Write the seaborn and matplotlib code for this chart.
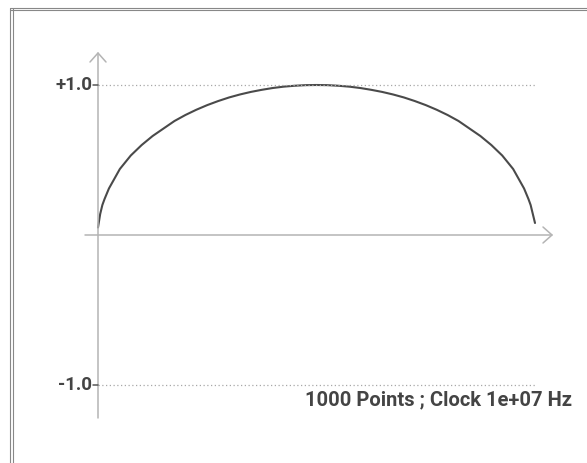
import matplotlib
matplotlib.use("Agg")
import matplotlib.pyplot as plt
from matplotlib.lines import Line2D
import seaborn as sns
import pandas as pd

# values (x: 0..1 across the sweep, y: amplitude)
sweep_pos = [0.0, 0.005, 0.01, 0.015, 0.025, 0.05, 0.075, 0.1, 0.125, 0.15, 0.175,
             0.2, 0.225, 0.25, 0.275, 0.3, 0.325, 0.35, 0.375, 0.4, 0.425, 0.45,
             0.475, 0.5, 0.525, 0.55, 0.575, 0.6, 0.625, 0.65, 0.675, 0.7, 0.725,
             0.75, 0.775, 0.8, 0.825, 0.85, 0.875, 0.9, 0.925, 0.95, 0.975, 0.985,
             0.99, 0.995, 1.0]
amplitude = [0.05, 0.14, 0.20, 0.24, 0.31, 0.44, 0.53, 0.60, 0.66, 0.71, 0.76,
             0.80, 0.835, 0.866, 0.893, 0.917, 0.937, 0.954, 0.968, 0.98, 0.989, 0.995,
             0.999, 1.0, 0.999, 0.995, 0.989, 0.98, 0.968, 0.954, 0.937, 0.917, 0.893,
             0.866, 0.835, 0.80, 0.76, 0.71, 0.66, 0.60, 0.53, 0.44, 0.31, 0.24,
             0.20, 0.14, 0.08]
tick_values = [1.0, -1.0]
tick_labels = ["+1.0", "-1.0"]
caption = "1000 Points ; Clock 1e+07 Hz"

W, H = 587, 463
sns.set_style("white")
plt.rcParams['font.family'] = ['Roboto', 'DejaVu Sans']

fig = plt.figure(figsize=(W / 100, H / 100), dpi=100)
# axes box: x 0..1 -> px 98..535, y -1..1 -> px 385..85
ax = fig.add_axes([98 / W, (H - 385) / H, (535 - 98) / W, 300 / H])
ax.set_xlim(0, 1)
ax.set_ylim(-1, 1)
ax.axis("off")

df = pd.DataFrame({"x": sweep_pos, "y": amplitude})
sns.lineplot(data=df, x="x", y="y", ax=ax, color="#4a4a4a", linewidth=1.5,
             clip_on=False)

axis_col = "#b4b4b4"
px = 1 / 437   # x data per pixel
py = 1 / 150   # y data per pixel
# axes lines with arrows
ax.plot([0, 0], [-183 * py, 182 * py], color=axis_col, lw=1.1, clip_on=False)
ax.plot([-8 * px, 0, 8 * px], [173 * py, 182 * py, 173 * py], color=axis_col, lw=1.1, clip_on=False)
ax.plot([-13 * px, 454 * px], [0, 0], color=axis_col, lw=1.1, clip_on=False)
ax.plot([445 * px, 454 * px, 445 * px], [8 * py, 0, -8 * py], color=axis_col, lw=1.1, clip_on=False)

# dotted reference lines + tick labels
for v, lab in zip(tick_values, tick_labels):
    ax.plot([0, 1], [v, v], color="#a8a8a8", lw=0.9, ls=(0, (1, 2)), clip_on=False)
    ax.plot([-5 * px, 0], [v, v], color="#555555", lw=1.1, clip_on=False)
    ax.text(-6 * px, v, lab, ha="right", va="center", fontsize=13.5,
            fontweight="bold", color="#444444")

fig.text(572 / W, 1 - 400 / H, caption, ha="right", va="center", fontsize=14.5,
         fontweight="bold", color="#444444")

# double frame on the left and top
for x in (10, 13):
    fig.add_artist(Line2D([x / W, x / W], [0, 1 - 7.5 / H], color="#888888", lw=0.8))
for y in (7.5, 9.5):
    fig.add_artist(Line2D([10 / W, 1], [1 - y / H, 1 - y / H], color="#888888", lw=0.8))

fig.savefig("out.png", dpi=100)
